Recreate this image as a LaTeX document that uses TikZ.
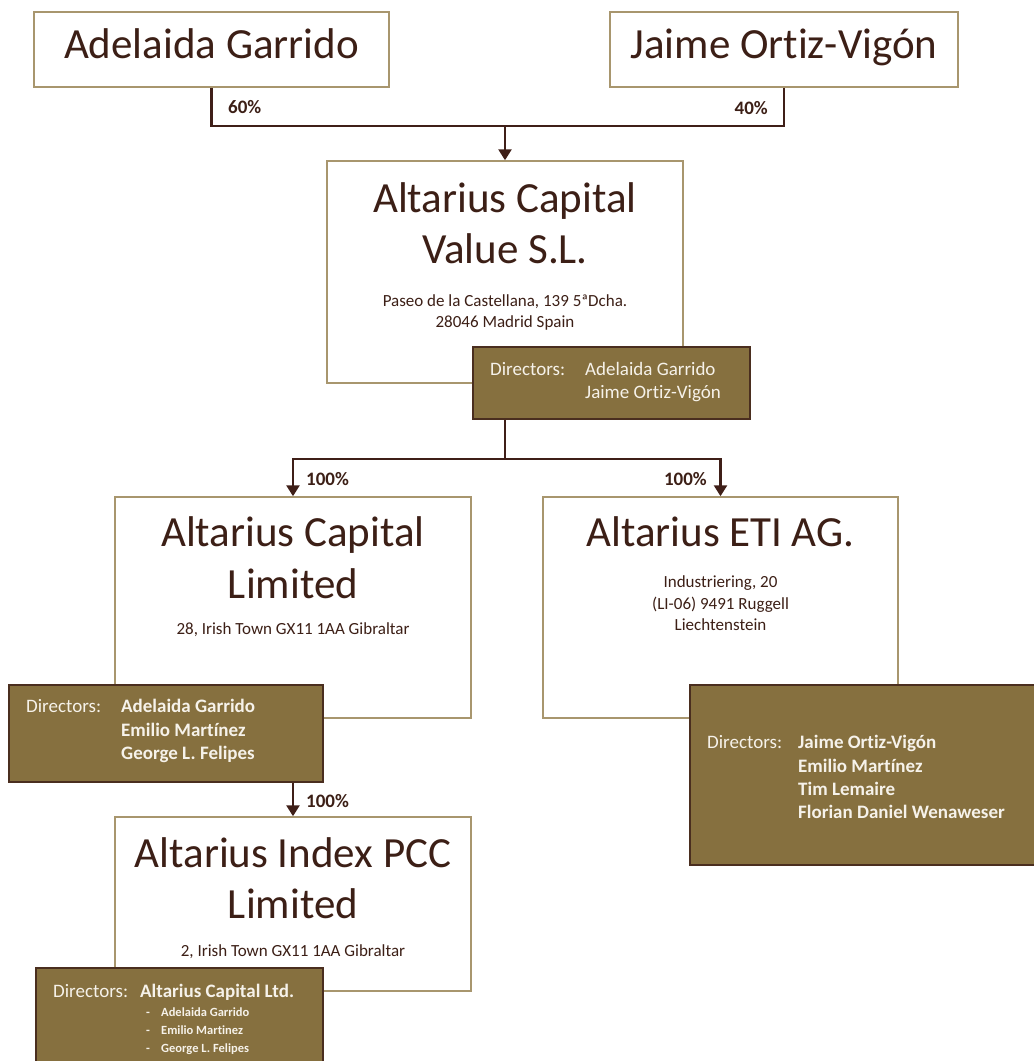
\documentclass[tikz,border=0pt]{standalone}
\usepackage{fontspec}
\setmainfont{Carlito}[Ligatures={NoCommon}]
\usetikzlibrary{arrows.meta}
\definecolor{txt}{HTML}{3C1F16}
\definecolor{boxline}{HTML}{A8966E}
\definecolor{dirfill}{HTML}{86703F}
\definecolor{dirline}{HTML}{4A2E1F}
\definecolor{dirtext}{HTML}{F6F2EA}
\definecolor{connc}{HTML}{3F1F18}
\tikzset{
 ownbox/.style={draw=boxline, line width=1.5pt, fill=white, inner sep=0pt},
 dirbox/.style={draw=dirline, fill=dirfill, line width=1.5pt, inner sep=0pt},
 ttl/.style={anchor=base, text=txt, font=\fontsize{43}{52}\selectfont, inner sep=0pt},
 addr/.style={anchor=base, text=txt, font=\fontsize{17}{22}\selectfont, inner sep=0pt},
 dirtxt/.style={anchor=base west, text=dirtext, font=\fontsize{19}{24}\selectfont, inner sep=0pt},
 dirname/.style={dirtxt, font=\fontsize{19}{24}\selectfont\bfseries},
 subname/.style={dirtxt, font=\fontsize{12.5}{16}\selectfont\bfseries},
 pct/.style={anchor=base west, text=txt, font=\fontsize{19}{24}\selectfont\bfseries, inner sep=0pt},
 conn/.style={draw=connc, line width=2.6pt},
 arr/.style={-{Triangle[width=13pt,length=11pt]}},
}
\begin{document}
\begin{tikzpicture}[x=1pt,y=-1pt]
\useasboundingbox (0,0) rectangle (1034,1061);
\clip (0,0) rectangle (1034,1061);
\fill[white] (0,0) rectangle (1034,1061);

% shareholders
\node[ownbox, minimum width=355pt, minimum height=75pt] (ag) at (211.5,49.5) {};
\node[ttl] (agT) at (211.5,58) {Adelaida Garrido};
\node[ownbox, minimum width=348pt, minimum height=75pt] (jov) at (784,49.5) {};
\node[ttl] (jovT) at (784,58) {Jaime Ortiz-Vigón};

% Altarius Capital Value S.L.
\node[ownbox, minimum width=356pt, minimum height=222pt] (acv) at (505,272) {};
\node[ttl] (acvT1) at (505,212) {Altarius Capital};
\node[ttl] (acvT2) at (505,263) {Value S.L.};
\node[addr] (acvA1) at (505,306) {Paseo de la Castellana, 139 5ªDcha.};
\node[addr] (acvA2) at (505,327) {28046 Madrid Spain};
\node[dirbox, minimum width=277pt, minimum height=72pt] (acvD) at (611.5,383) {};
\node[dirtxt] (acvD0) at (490,375) {Directors:};
\node[dirtxt] (acvD1) at (585,375) {Adelaida Garrido};
\node[dirtxt] (acvD2) at (585,398) {Jaime Ortiz-Vigón};

% Altarius Capital Limited
\node[ownbox, minimum width=356pt, minimum height=221pt] (acl) at (293,607.5) {};
\node[ttl] (aclT1) at (293,546) {Altarius Capital};
\node[ttl] (aclT2) at (293,598) {Limited};
\node[addr] (aclA1) at (293,634) {28, Irish Town GX11 1AA Gibraltar};
\node[dirbox, minimum width=314pt, minimum height=97pt] (aclD) at (166,733.5) {};
\node[dirtxt] (aclD0) at (26,712) {Directors:};
\node[dirname] (aclD1) at (121,712) {Adelaida Garrido};
\node[dirname] (aclD2) at (121,736) {Emilio Martínez};
\node[dirname] (aclD3) at (121,759) {George L. Felipes};

% Altarius ETI AG.
\node[ownbox, minimum width=355pt, minimum height=221pt] (eti) at (720.5,607.5) {};
\node[ttl] (etiT1) at (720.5,546) {Altarius ETI AG.};
\node[addr] (etiA1) at (720.5,587) {Industriering, 20};
\node[addr] (etiA2) at (720.5,609) {(LI-06) 9491 Ruggell};
\node[addr] (etiA3) at (720.5,630) {Liechtenstein};
\node[dirbox, minimum width=350pt, minimum height=180pt] (etiD) at (865,775) {};
\node[dirtxt] (etiD0) at (707,748) {Directors:};
\node[dirname] (etiD1) at (798,748) {Jaime Ortiz-Vigón};
\node[dirname] (etiD2) at (798,772) {Emilio Martínez};
\node[dirname] (etiD3) at (798,795) {Tim Lemaire};
\node[dirname] (etiD4) at (798,818) {Florian Daniel Wenaweser};

% Altarius Index PCC Limited
\node[ownbox, minimum width=356pt, minimum height=174pt] (idx) at (293,904) {};
\node[ttl] (idxT1) at (293,867) {Altarius Index PCC};
\node[ttl] (idxT2) at (293,918) {Limited};
\node[addr] (idxA1) at (293,956) {2, Irish Town GX11 1AA Gibraltar};
\node[dirbox, minimum width=287pt, minimum height=107pt] (idxD) at (179.5,1021.5) {};
\node[dirtxt] (idxD0) at (53,997) {Directors:};
\node[dirname] (idxD1) at (140,997) {Altarius Capital Ltd.};
\node[subname] (idxS1d) at (146,1016) {-};
\node[subname] (idxS1) at (161,1016) {Adelaida Garrido};
\node[subname] (idxS2d) at (146,1034) {-};
\node[subname] (idxS2) at (161,1034) {Emilio Martinez};
\node[subname] (idxS3d) at (146,1052) {-};
\node[subname] (idxS3) at (161,1052) {George L. Felipes};

% connectors
\coordinate (j1) at (505,126);
\draw[conn] (ag.south) |- (j1) -| (jov.south);
\draw[conn,arr] (j1) -- (acv.north);
\node[pct] (p60) at (228,113) {60\%};
\node[pct, anchor=base east] (p40) at (768,114) {40\%};

\coordinate (j2) at (505,459);
\draw[conn] (acv.south |- acvD.south) -- (j2);
\draw[conn,arr] (j2) -| (acl.north);
\draw[conn,arr] (j2) -| (eti.north);
\node[pct] (p100a) at (306,485) {100\%};
\node[pct, anchor=base east] (p100b) at (707,485) {100\%};

\draw[conn,arr] (acl.south |- aclD.south) -- (idx.north);
\node[pct] (p100c) at (306,807) {100\%};
\end{tikzpicture}
\end{document}
